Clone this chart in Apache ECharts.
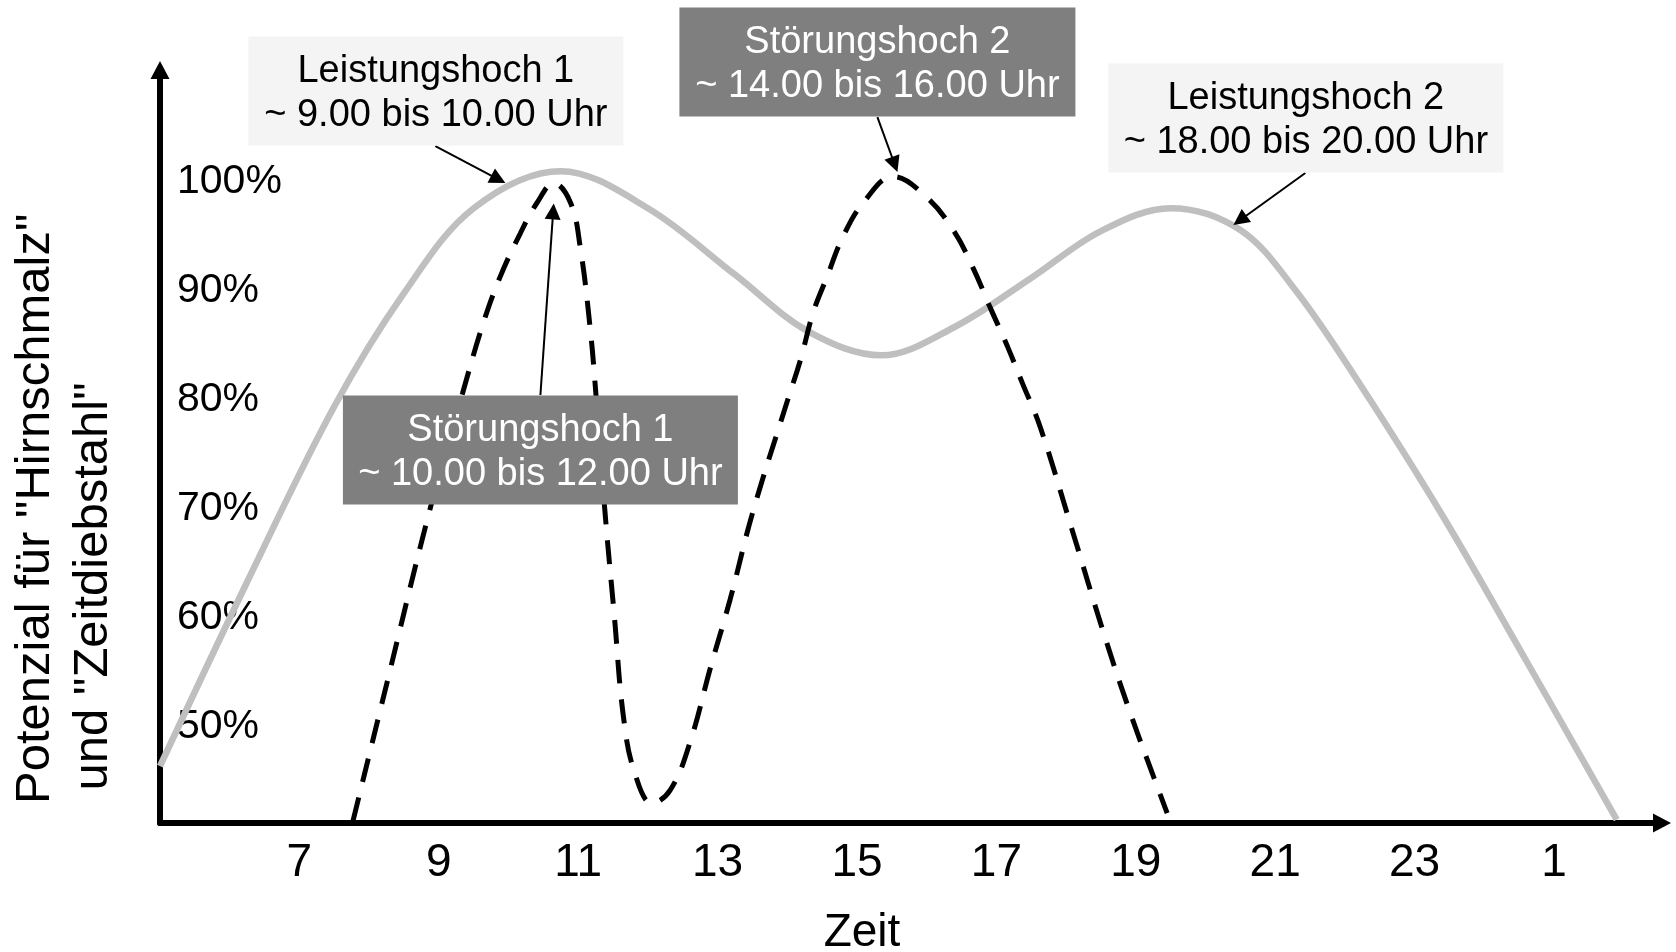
<!DOCTYPE html>
<html>
<head>
<meta charset="utf-8">
<script src="https://cdn.jsdelivr.net/npm/echarts@6/dist/echarts.min.js"></script>
<style>
html, body { margin: 0; padding: 0; background: #ffffff; }
#chart { width: 1676px; height: 952px; }
</style>
</head>
<body>
<div id="chart"></div>
<script>
// ---- Data ----
const leistungZeit = [5.0, 6.25, 7.5, 8.5, 9.5, 10.75, 12.0, 13.25, 14.3, 15.35, 16.4, 17.5, 18.5, 19.5, 20.5, 21.3, 22.2, 23.4, 24.6, 25.9];
const leistungWert = [46.4, 63.3, 79.4, 89.8, 97.6, 101.0, 97.6, 91.5, 86.3, 84.1, 86.7, 91.2, 95.5, 97.6, 95.6, 90.0, 81.6, 69.4, 56.1, 41.5];

const stoerungZeit = [7.77, 8.22, 8.87, 9.34, 9.64, 9.88, 10.17, 10.41, 10.65, 10.89, 11.03, 11.17, 11.25, 11.39, 11.52, 11.65, 11.81, 12.06, 12.32, 12.6, 12.9, 13.18, 13.5, 13.97, 14.19, 14.37, 14.57, 14.8, 15.09, 15.52, 16.0, 16.38, 16.66, 16.91, 17.16, 17.37, 17.63, 18.1, 18.54, 18.92, 19.31, 19.45];
const stoerungWert = [41.4, 53.1, 69.9, 80.6, 87.1, 91.3, 95.3, 98.1, 99.9, 98.1, 94.0, 86.7, 80.9, 69.3, 60.1, 50.9, 45.8, 43.0, 44.2, 48.5, 55.5, 61.7, 69.6, 79.3, 83.7, 88.0, 91.3, 95.0, 98.1, 100.5, 98.6, 95.6, 92.2, 88.5, 84.9, 81.6, 77.5, 67.8, 58.6, 51.3, 44.5, 42.1];

const xTickValues = [7, 9, 11, 13, 15, 17, 19, 21, 23, 25];
const xTickLabels = ['7', '9', '11', '13', '15', '17', '19', '21', '23', '1'];
const yTickValues = [50, 60, 70, 80, 90, 100];
const yTickLabels = ['50%', '60%', '70%', '80%', '90%', '100%'];

const annotationTexts = [
  'Leistungshoch 1\n~ 9.00 bis 10.00 Uhr',
  'Störungshoch 1\n~ 10.00 bis 12.00 Uhr',
  'Störungshoch 2\n~ 14.00 bis 16.00 Uhr',
  'Leistungshoch 2\n~ 18.00 bis 20.00 Uhr'
];
// bottom-centre of each annotation box, in (hour, percent)
const annotationAnchors = [[8.958, 103.3], [10.458, 70.37], [15.293, 105.96], [21.44, 100.83]];
const annotationWidths = [375, 395, 396, 395];
const annotationDark = [false, true, true, false];

// arrows: start (at the box) and end (at the curve), in (hour, percent)
const arrowStart = [[8.951, 103.30], [10.458, 80.46], [15.293, 105.96], [21.433, 100.83]];
const arrowEnd   = [[9.854, 100.25], [10.641, 97.31], [15.541, 101.61], [20.494, 96.49]];

const FONT = '"Liberation Sans", Arial, Helvetica, sans-serif';

// ---- Build the chart ----
const leistungData = leistungZeit.map((t, i) => [t, leistungWert[i]]);
const stoerungData = stoerungZeit.map((t, i) => [t, stoerungWert[i]]);

function pick(values, labels, v) {
  const i = values.findIndex(t => Math.abs(t - v) < 1e-6);
  return i >= 0 ? labels[i] : '';
}

const chart = echarts.init(document.getElementById('chart'), null, { renderer: 'canvas' });

chart.setOption({
  animation: false,
  backgroundColor: '#ffffff',
  textStyle: { fontFamily: FONT },
  grid: { left: 160, right: 14, top: 70, bottom: 129, containLabel: false, outerBoundsMode: 'none' },
  xAxis: {
    type: 'value',
    min: 5,
    max: 26.55,
    interval: 1,
    name: 'Zeit',
    nameLocation: 'middle',
    nameGap: 87,
    nameTextStyle: { fontSize: 46, color: '#000', fontFamily: FONT, padding: [0, 98, 0, 0] },
    axisLine: {
      show: true, onZero: false,
      lineStyle: { color: '#000', width: 6 },
      symbol: ['none', 'triangle'], symbolSize: [19, 18]
    },
    axisTick: { show: false },
    splitLine: { show: false },
    axisLabel: {
      fontSize: 46, color: '#000', fontFamily: FONT, margin: 17,
      formatter: v => pick(xTickValues, xTickLabels, v)
    }
  },
  yAxis: {
    type: 'value',
    min: 41.19,
    max: 110.28,
    axisLine: {
      show: true, onZero: false,
      lineStyle: { color: '#000', width: 6 },
      symbol: ['none', 'triangle'], symbolSize: [19, 18]
    },
    axisTick: { show: false },
    splitLine: { show: false },
    axisLabel: {
      inside: true, fontSize: 41, color: '#000', fontFamily: FONT, margin: 17,
      formatter: v => pick(yTickValues, yTickLabels, v)
    }
  },
  graphic: [{
    type: 'text',
    x: 6,
    y: 804,
    rotation: Math.PI / 2,
    silent: true,
    style: {
      text: 'Potenzial für "Hirnschmalz"\n und "Zeitdiebstahl"',
      fontSize: 49,
      fontFamily: FONT,
      fill: '#000',
      align: 'left',
      verticalAlign: 'top',
      lineHeight: 58
    }
  }],
  series: [
    {
      name: 'Leistung',
      type: 'line',
      data: leistungData,
      smooth: 0.35,
      showSymbol: false,
      symbol: 'none',
      silent: true,
      z: 2,
      lineStyle: { color: '#bfbfbf', width: 6.5 }
    },
    {
      name: 'Störung',
      type: 'line',
      data: stoerungData,
      smooth: 0.4,
      showSymbol: false,
      symbol: 'none',
      silent: true,
      z: 3,
      lineStyle: { color: '#000', width: 5, type: [24, 16] },
      markLine: {
        silent: true,
        symbol: ['none', 'triangle'],
        symbolSize: 16,
        label: { show: false },
        lineStyle: { color: '#000', width: 2, type: 'solid' },
        data: arrowStart.map((s, i) => [{ coord: s }, { coord: arrowEnd[i] }])
      },
      markPoint: {
        silent: true,
        symbol: 'rect',
        symbolSize: 1,
        itemStyle: { color: 'rgba(0,0,0,0)' },
        label: {
          show: true,
          position: 'top',
          distance: 0,
          fontSize: 38,
          fontFamily: FONT,
          lineHeight: 44,
          align: 'center',
          padding: [13, 0, 8, 0]
        },
        data: annotationTexts.map((txt, i) => ({
          coord: annotationAnchors[i],
          label: {
            formatter: txt,
            width: annotationWidths[i],
            backgroundColor: annotationDark[i] ? '#7f7f7f' : '#f4f4f4',
            color: annotationDark[i] ? '#ffffff' : '#000000'
          }
        }))
      }
    }
  ]
});
</script>
</body>
</html>
